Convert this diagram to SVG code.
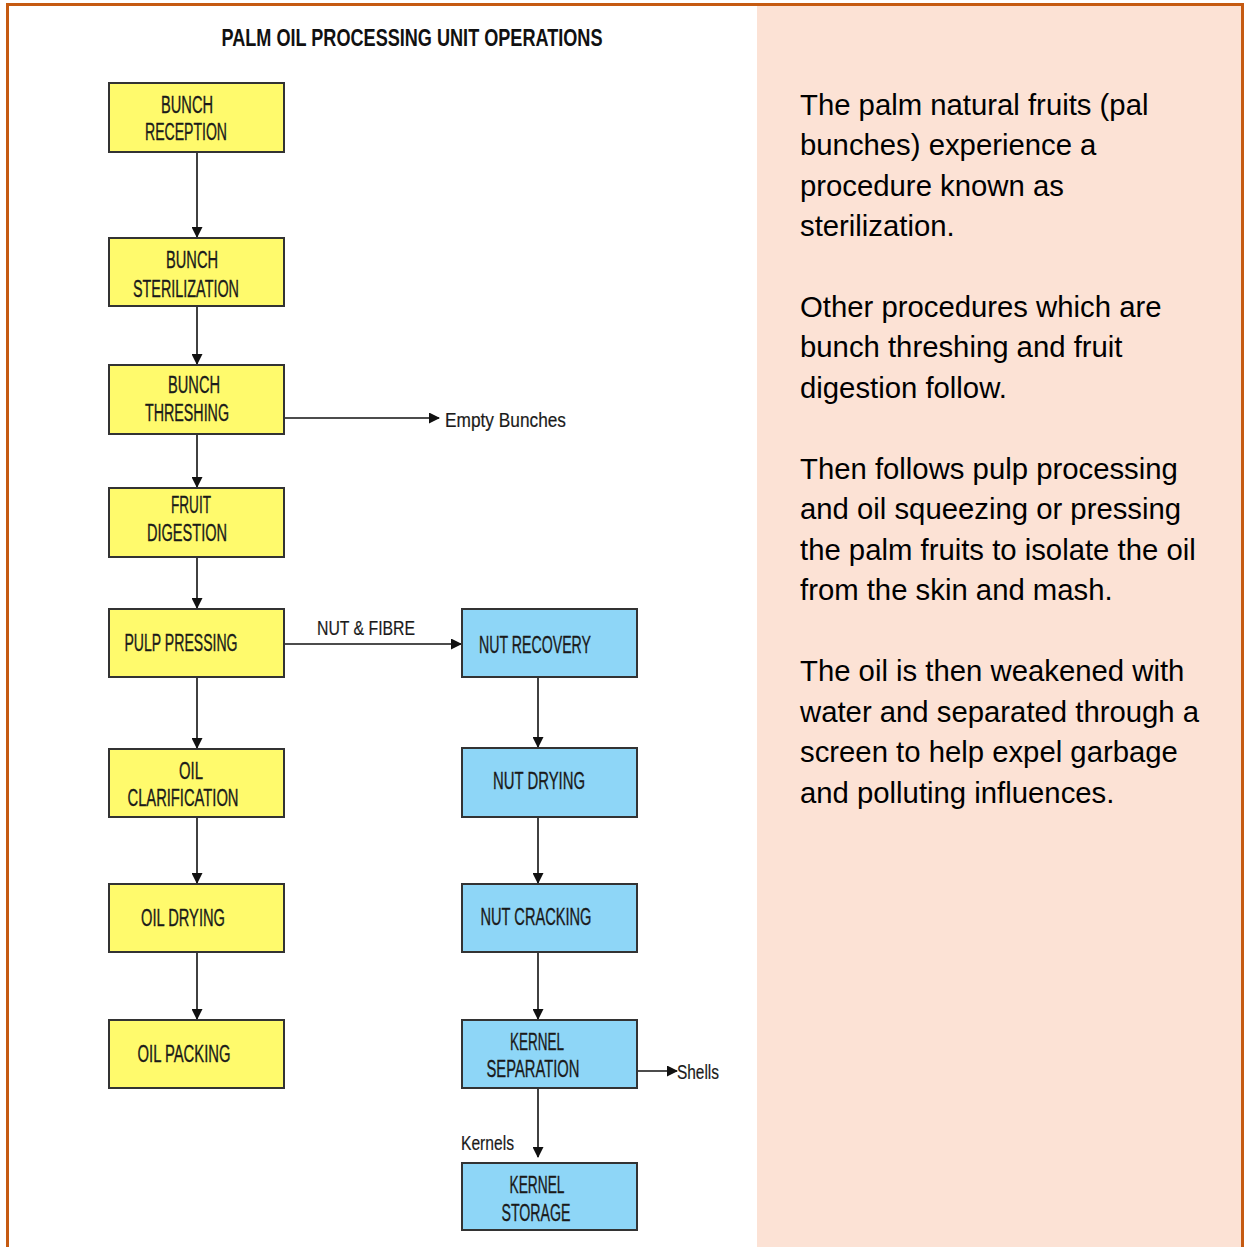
<svg xmlns="http://www.w3.org/2000/svg" width="1244" height="1247" viewBox="0 0 1244 1247">
<defs>
<marker id="ah" markerWidth="11" markerHeight="11" refX="10" refY="5.5" orient="auto" markerUnits="userSpaceOnUse">
<path d="M0,0 L11,5.5 L0,11 Z" fill="#111"/>
</marker>
<style>
.y{fill:#FFFA6C;stroke:#333;stroke-width:2}
.b{fill:#8ED6F7;stroke:#333;stroke-width:2}
.t{font-family:"Liberation Sans",Arial,sans-serif;font-size:23px;fill:#1a1a1a;stroke:#1a1a1a;stroke-width:0.35;text-anchor:middle}
.l{font-family:"Liberation Sans",Arial,sans-serif;font-size:21px;fill:#1a1a1a;stroke:#1a1a1a;stroke-width:0.2}
.c{stroke:#111;stroke-width:1.6;fill:none}
.p{font-family:"Liberation Sans",Arial,sans-serif;font-size:29.3px;fill:#000}
</style>
</defs>
<rect x="0" y="0" width="1244" height="1247" fill="#fff"/>
<rect x="757" y="5" width="485" height="1242" fill="#FCE2D5"/>
<path d="M7.5,1247 V4.5 H1242.5 V1247" fill="none" stroke="#C55A11" stroke-width="3"/>
<text x="412" y="46" font-family="Liberation Sans,Arial,sans-serif" font-weight="bold" font-size="24" text-anchor="middle" textLength="381" lengthAdjust="spacingAndGlyphs" fill="#111">PALM OIL PROCESSING UNIT OPERATIONS</text>

<g id="connectors">
<line class="c" x1="197" y1="152" x2="197" y2="237" marker-end="url(#ah)"/>
<line class="c" x1="197" y1="306" x2="197" y2="364" marker-end="url(#ah)"/>
<line class="c" x1="197" y1="434" x2="197" y2="487" marker-end="url(#ah)"/>
<line class="c" x1="197" y1="557" x2="197" y2="608" marker-end="url(#ah)"/>
<line class="c" x1="197" y1="677" x2="197" y2="748" marker-end="url(#ah)"/>
<line class="c" x1="197" y1="817" x2="197" y2="883" marker-end="url(#ah)"/>
<line class="c" x1="197" y1="952" x2="197" y2="1019" marker-end="url(#ah)"/>
<line class="c" x1="284" y1="418" x2="439" y2="418" marker-end="url(#ah)"/>
<line class="c" x1="284" y1="644" x2="461" y2="644" marker-end="url(#ah)"/>
<line class="c" x1="538" y1="677" x2="538" y2="747" marker-end="url(#ah)"/>
<line class="c" x1="538" y1="817" x2="538" y2="883" marker-end="url(#ah)"/>
<line class="c" x1="538" y1="952" x2="538" y2="1019" marker-end="url(#ah)"/>
<line class="c" x1="637" y1="1071" x2="677" y2="1071" marker-end="url(#ah)"/>
<line class="c" x1="538" y1="1088" x2="538" y2="1157" marker-end="url(#ah)"/>
<text class="l" x="445" y="427" textLength="121" lengthAdjust="spacingAndGlyphs">Empty  Bunches</text>
<text class="l" x="317" y="635" textLength="98" lengthAdjust="spacingAndGlyphs">NUT &amp;  FIBRE</text>
<text class="l" x="677" y="1079" textLength="42" lengthAdjust="spacingAndGlyphs">Shells</text>
<text class="l" x="461" y="1150" textLength="53" lengthAdjust="spacingAndGlyphs">Kernels</text>
</g>

<g id="bunch-reception"><rect class="y" x="109" y="83" width="175" height="69"/>
<text class="t" x="187" y="113" textLength="52" lengthAdjust="spacingAndGlyphs">BUNCH</text>
<text class="t" x="186" y="140" textLength="82" lengthAdjust="spacingAndGlyphs">RECEPTION</text></g>
<g id="bunch-sterilization"><rect class="y" x="109" y="238" width="175" height="68"/>
<text class="t" x="192" y="268" textLength="52" lengthAdjust="spacingAndGlyphs">BUNCH</text>
<text class="t" x="186" y="297" textLength="106" lengthAdjust="spacingAndGlyphs">STERILIZATION</text></g>
<g id="bunch-threshing"><rect class="y" x="109" y="365" width="175" height="69"/>
<text class="t" x="194" y="393" textLength="52" lengthAdjust="spacingAndGlyphs">BUNCH</text>
<text class="t" x="187" y="421" textLength="84" lengthAdjust="spacingAndGlyphs">THRESHING</text></g>
<g id="fruit-digestion"><rect class="y" x="109" y="488" width="175" height="69"/>
<text class="t" x="191" y="513" textLength="40" lengthAdjust="spacingAndGlyphs">FRUIT</text>
<text class="t" x="187" y="541" textLength="80" lengthAdjust="spacingAndGlyphs">DIGESTION</text></g>
<g id="pulp-pressing"><rect class="y" x="109" y="609" width="175" height="68"/>
<text class="t" x="181" y="651" textLength="113" lengthAdjust="spacingAndGlyphs">PULP PRESSING</text></g>
<g id="oil-clarification"><rect class="y" x="109" y="749" width="175" height="68"/>
<text class="t" x="191" y="779" textLength="24" lengthAdjust="spacingAndGlyphs">OIL</text>
<text class="t" x="183" y="806" textLength="111" lengthAdjust="spacingAndGlyphs">CLARIFICATION</text></g>
<g id="oil-drying"><rect class="y" x="109" y="884" width="175" height="68"/>
<text class="t" x="183" y="926" textLength="84" lengthAdjust="spacingAndGlyphs">OIL DRYING</text></g>
<g id="oil-packing"><rect class="y" x="109" y="1020" width="175" height="68"/>
<text class="t" x="184" y="1062" textLength="93" lengthAdjust="spacingAndGlyphs">OIL PACKING</text></g>

<g id="nut-recovery"><rect class="b" x="462" y="609" width="175" height="68"/>
<text class="t" x="535" y="653" textLength="112" lengthAdjust="spacingAndGlyphs">NUT RECOVERY</text></g>
<g id="nut-drying"><rect class="b" x="462" y="748" width="175" height="69"/>
<text class="t" x="539" y="789" textLength="92" lengthAdjust="spacingAndGlyphs">NUT DRYING</text></g>
<g id="nut-cracking"><rect class="b" x="462" y="884" width="175" height="68"/>
<text class="t" x="536" y="925" textLength="111" lengthAdjust="spacingAndGlyphs">NUT CRACKING</text></g>
<g id="kernel-separation"><rect class="b" x="462" y="1020" width="175" height="68"/>
<text class="t" x="537" y="1050" textLength="54" lengthAdjust="spacingAndGlyphs">KERNEL</text>
<text class="t" x="533" y="1077" textLength="93" lengthAdjust="spacingAndGlyphs">SEPARATION</text></g>
<g id="kernel-storage"><rect class="b" x="462" y="1163" width="175" height="67"/>
<text class="t" x="537" y="1193" textLength="55" lengthAdjust="spacingAndGlyphs">KERNEL</text>
<text class="t" x="536" y="1221" textLength="69" lengthAdjust="spacingAndGlyphs">STORAGE</text></g>

<g id="description">
<text class="p" x="800" y="115">The palm natural fruits (pal</text>
<text class="p" x="800" y="155">bunches) experience a</text>
<text class="p" x="800" y="196">procedure known as</text>
<text class="p" x="800" y="236">sterilization.</text>
<text class="p" x="800" y="317">Other procedures which are</text>
<text class="p" x="800" y="357">bunch threshing and fruit</text>
<text class="p" x="800" y="398">digestion follow.</text>
<text class="p" x="800" y="479">Then follows pulp processing</text>
<text class="p" x="800" y="519">and oil squeezing or pressing</text>
<text class="p" x="800" y="560">the palm fruits to isolate the oil</text>
<text class="p" x="800" y="600">from the skin and mash.</text>
<text class="p" x="800" y="681">The oil is then weakened with</text>
<text class="p" x="800" y="722">water and separated through a</text>
<text class="p" x="800" y="762">screen to help expel garbage</text>
<text class="p" x="800" y="803">and polluting influences.</text>
</g>
</svg>
